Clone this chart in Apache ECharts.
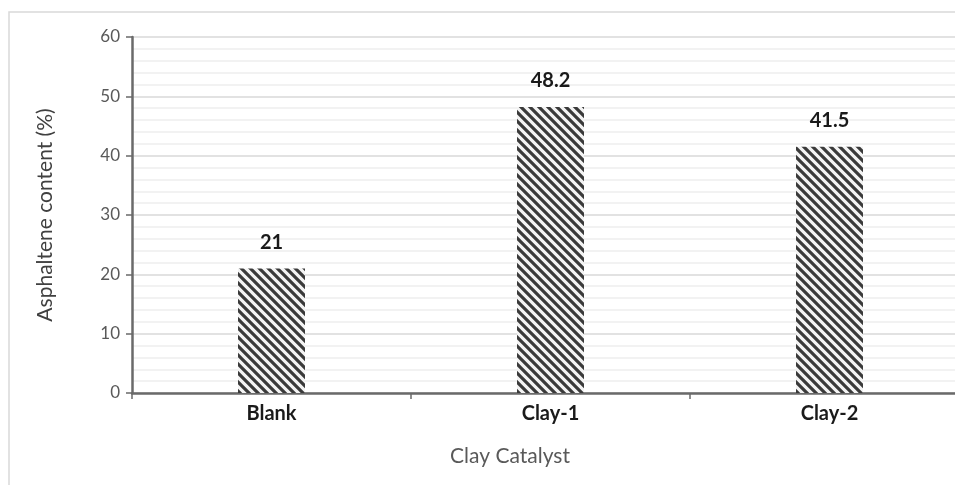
<!DOCTYPE html>
<html>
<head>
<meta charset="utf-8">
<script src="https://cdn.jsdelivr.net/npm/echarts@6/dist/echarts.min.js"></script>
<style>
html,body{margin:0;padding:0;background:#fff;}
#chart{width:955px;height:485px;}
</style>
</head>
<body>
<div id="chart"></div>
<script>
const categories = ['Blank', 'Clay-1', 'Clay-2'];
const values = [21, 48.2, 41.5];
const yTicks = [0, 10, 20, 30, 40, 50, 60];
const yAxisName = 'Asphaltene content (%)';
const xAxisName = 'Clay Catalyst';

function makeHatch() {
  const s = 9;
  const c = document.createElement('canvas');
  c.width = s; c.height = s;
  const ctx = c.getContext('2d');
  ctx.fillStyle = '#f4f4f4';
  ctx.fillRect(0, 0, s, s);
  ctx.strokeStyle = '#3a3a3a';
  ctx.lineWidth = 3.2;
  ctx.beginPath();
  ctx.moveTo(-s, 0); ctx.lineTo(s, 2 * s);
  ctx.moveTo(0, 0); ctx.lineTo(s, s);
  ctx.moveTo(0, -s); ctx.lineTo(2 * s, s);
  ctx.stroke();
  return c;
}

const chart = echarts.init(document.getElementById('chart'), null, {renderer: 'canvas'});
const font = 'Lato, "Open Sans", sans-serif';
chart.setOption({
  animation: false,
  backgroundColor: '#ffffff',
  graphic: [
    {type: 'rect', shape: {x: 9, y: 12, width: 1000, height: 500}, style: {fill: 'none', stroke: '#d9d9d9', lineWidth: 1.5}, silent: true},
    {type: 'text', x: 510, y: 456, style: {text: xAxisName, font: '21px ' + font, fill: '#595959', textAlign: 'center', textVerticalAlign: 'middle'}}
  ],
  grid: {left: 132, width: 837, top: 37, bottom: 92, containLabel: false, outerBoundsMode: 'none'},
  xAxis: {
    type: 'category',
    data: categories,
    axisLine: {lineStyle: {color: '#6a6a6a', width: 2.5}},
    axisTick: {show: true, length: 6, lineStyle: {color: '#6a6a6a', width: 1.5}},
    axisLabel: {color: '#1a1a1a', fontWeight: 'bold', fontSize: 20, fontFamily: font, margin: 11},
    splitLine: {show: false}
  },
  yAxis: {
    type: 'value',
    min: yTicks[0], max: yTicks[yTicks.length - 1], interval: 10,
    name: yAxisName,
    nameLocation: 'middle',
    nameGap: 76,
    nameTextStyle: {color: '#404040', fontSize: 21, fontFamily: font},
    axisLine: {show: true, lineStyle: {color: '#6a6a6a', width: 2.5}},
    axisTick: {show: true, length: 6, lineStyle: {color: '#6a6a6a', width: 1.5}},
    axisLabel: {color: '#595959', fontSize: 17, fontFamily: font, margin: 12},
    splitLine: {show: true, lineStyle: {color: '#d9d9d9', width: 1.5}},
    minorTick: {show: false, splitNumber: 5},
    minorSplitLine: {show: true, lineStyle: {color: '#eeeeee', width: 1.5}}
  },
  series: [{
    type: 'bar',
    data: values,
    barWidth: 67,
    itemStyle: {color: {image: makeHatch(), repeat: 'repeat'}},
    label: {show: true, position: 'top', distance: 16, color: '#1a1a1a', fontWeight: 'bold', fontSize: 20, fontFamily: font}
  }]
});
</script>
</body>
</html>
